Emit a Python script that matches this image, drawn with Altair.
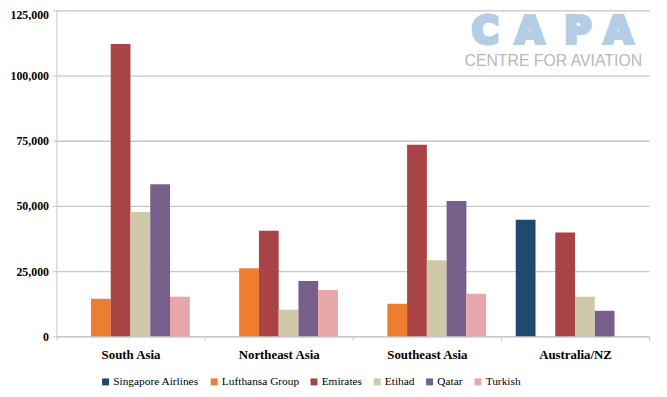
import altair as alt
import pandas as pd

regions = ["South Asia", "Northeast Asia", "Southeast Asia", "Australia/NZ"]
airlines = ["Singapore Airlines", "Lufthansa Group", "Emirates", "Etihad", "Qatar", "Turkish"]
colors = ["#1F4A6E", "#EE7D2F", "#A84446", "#CFC8A9", "#76608A", "#E6A7A8"]

# values per airline, in region order (None = no bar)
singapore = [None, None, None, 44700]
lufthansa = [14400, 26100, 12500, None]
emirates = [112100, 40500, 73500, 39800]
etihad = [47700, 10200, 29200, 15200]
qatar = [58300, 21200, 51900, 9800]
turkish = [15200, 17800, 16300, None]

series = [singapore, lufthansa, emirates, etihad, qatar, turkish]
rows = []
for name, vals in zip(airlines, series):
    for reg, v in zip(regions, vals):
        if v is not None:
            rows.append({"region": reg, "airline": name, "value": v})
df = pd.DataFrame(rows)

y_ticks = [0, 25000, 50000, 75000, 100000, 125000]
grid_col = "#C6C6C6"
serif = "Liberation Serif"

bars = alt.Chart(df).mark_bar().encode(
    x=alt.X("region:N", sort=regions,
            scale=alt.Scale(paddingInner=0, paddingOuter=0),
            axis=alt.Axis(title=None, labelAngle=0, tickBand="extent",
                          labelFont=serif, labelFontWeight="bold", labelFontSize=13,
                          labelColor="#000000", labelPadding=8,
                          domainColor=grid_col, tickColor=grid_col, tickSize=4,
                          grid=False)),
    xOffset=alt.XOffset("airline:N", sort=airlines,
                        scale=alt.Scale(domain=airlines, paddingInner=0, paddingOuter=0.75)),
    y=alt.Y("value:Q", scale=alt.Scale(domain=[0, 125000], nice=False),
            axis=alt.Axis(title=None, values=y_ticks, format=",.0f",
                          labelFont=serif, labelFontWeight="bold", labelFontSize=12,
                          labelColor="#000000", labelPadding=4,
                          labelOffset={"condition": {"test": "datum.value >= 125000", "value": 4},
                                       "value": 0},
                          domainColor=grid_col, tickColor=grid_col, tickSize=4,
                          gridColor=grid_col, gridWidth=1.3)),
    color=alt.Color("airline:N", sort=airlines,
                    scale=alt.Scale(domain=airlines, range=colors),
                    legend=alt.Legend(title=None, orient="none", direction="horizontal",
                                      legendX=44, legendY=370, columns=6,
                                      symbolType="square", symbolSize=50,
                                      symbolStrokeWidth=0, labelFont=serif,
                                      labelFontSize=11.5, labelColor="#000000",
                                      labelOffset=2, columnPadding=9)),
)

logo_color = "#B4CCE4"
letters = ["C", "A", "P", "A"]
letter_x = [434, 479, 528, 569]
logo_layers = []
for ch, lx in zip(letters, letter_x):
    logo_layers.append(
        alt.Chart(pd.DataFrame({"t": [ch]})).mark_text(
            font="DejaVu Sans", fontWeight="bold", fontSize=37, color=logo_color,
            stroke=logo_color, strokeWidth=4, align="center", baseline="alphabetic"
        ).encode(text="t:N", x=alt.value(lx), y=alt.value(33))
    )
sub = alt.Chart(pd.DataFrame({"t": ["CENTRE FOR AVIATION"]})).mark_text(
    font="Liberation Sans", fontSize=16, color="#B8B8B8", align="center",
    baseline="alphabetic"
).encode(text="t:N", x=alt.value(503), y=alt.value(56))

chart = alt.layer(bars, *logo_layers, sub).properties(
    width=600, height=330,
    autosize=alt.AutoSizeParams(type="none"),
    padding={"left": 49, "top": 0, "right": 10, "bottom": 59},
    background="#FFFFFF",
).configure_view(stroke=None)

chart.save("out.html", embed_options={"renderer": "svg", "actions": False})
